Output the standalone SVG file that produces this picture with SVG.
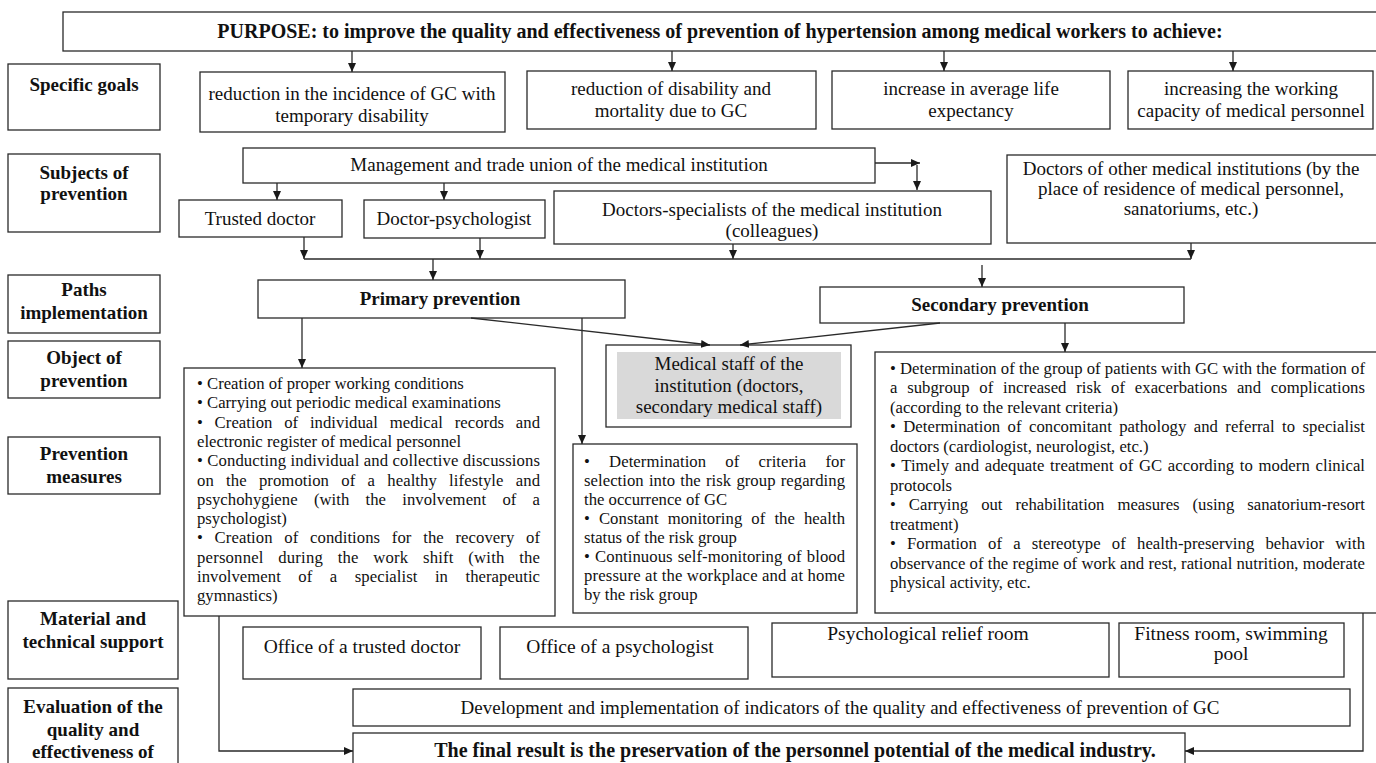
<svg xmlns="http://www.w3.org/2000/svg" width="1376" height="763" viewBox="0 0 1376 763">
<style>
.b{fill:#fff;stroke:#2a2a2a;stroke-width:1.3}
.g{fill:#d9d9d9;stroke:none}
text{font-family:"Liberation Serif","Times New Roman",serif;fill:#111}
.h{font-size:20px;font-weight:bold;text-anchor:middle}
.l{font-size:19px;font-weight:bold;text-anchor:middle}
.t{font-size:19px;text-anchor:middle}
.m{font-size:16.7px}
.s{font-size:19.5px;text-anchor:middle}
.c{fill:none;stroke:#2a2a2a;stroke-width:1.3}
</style>
<defs>
<marker id="a" markerUnits="userSpaceOnUse" markerWidth="10" markerHeight="10" refX="9" refY="5" orient="auto"><path d="M0,1 L9,5 L0,9 Z" fill="#1a1a1a"/></marker>
</defs>

<g id="purpose"><rect class="b" x="63" y="12" width="1320" height="39"/><text class="h" x="720" y="38">PURPOSE: to improve the quality and effectiveness of prevention of hypertension among medical workers to achieve:</text></g>

<g id="lbl-goals"><rect class="b" x="8" y="64" width="152" height="66"/><text class="l" x="84" y="91">Specific goals</text></g>
<g id="goal1"><rect class="b" x="200" y="72" width="305" height="60"/><text class="t" x="352" y="100">reduction in the incidence of GC with</text><text class="t" x="352" y="122">temporary disability</text></g>
<g id="goal2"><rect class="b" x="527" y="71" width="289" height="58"/><text class="t" x="671" y="95">reduction of disability and</text><text class="t" x="671" y="117">mortality due to GC</text></g>
<g id="goal3"><rect class="b" x="832" y="71" width="278" height="58"/><text class="t" x="971" y="95">increase in average life</text><text class="t" x="971" y="117">expectancy</text></g>
<g id="goal4"><rect class="b" x="1128" y="71" width="245" height="58"/><text class="t" x="1251" y="95">increasing the working</text><text class="t" x="1251" y="117">capacity of medical personnel</text></g>

<g id="lbl-subjects"><rect class="b" x="8" y="154" width="152" height="78"/><text class="l" x="84" y="179">Subjects of</text><text class="l" x="84" y="200">prevention</text></g>
<g id="mgmt"><rect class="b" x="243" y="148" width="632" height="35"/><text class="t" x="559" y="171">Management and trade union of the medical institution</text></g>
<g id="trusted"><rect class="b" x="179" y="200" width="163" height="37"/><text class="t" x="260" y="225">Trusted doctor</text></g>
<g id="psych"><rect class="b" x="364" y="200" width="181" height="38"/><text class="t" x="454" y="225">Doctor-psychologist</text></g>
<g id="specialists"><rect class="b" x="554" y="191" width="437" height="53"/><text class="t" x="772" y="216">Doctors-specialists of the medical institution</text><text class="t" x="772" y="237">(colleagues)</text></g>
<g id="other"><rect class="b" x="1007" y="155" width="380" height="88"/><text class="t" x="1191" y="175">Doctors of other medical institutions (by the</text><text class="t" x="1191" y="195">place of residence of medical personnel,</text><text class="t" x="1191" y="215">sanatoriums, etc.)</text></g>

<g id="lbl-paths"><rect class="b" x="8" y="275" width="152" height="58"/><text class="l" x="84" y="296">Paths</text><text class="l" x="84" y="319">implementation</text></g>
<g id="primary"><rect class="b" x="258" y="280" width="367" height="38"/><text class="l" x="440" y="305">Primary prevention</text></g>
<g id="secondary"><rect class="b" x="820" y="287" width="364" height="36"/><text class="l" x="1000" y="311">Secondary prevention</text></g>

<g id="lbl-object"><rect class="b" x="8" y="341" width="152" height="57"/><text class="l" x="84" y="364">Object of</text><text class="l" x="84" y="387">prevention</text></g>
<g id="staff"><rect class="b" x="606" y="345" width="245" height="82"/><rect class="g" x="617" y="352" width="224" height="67"/><text class="t" x="729" y="370" font-size="18.5">Medical staff of the</text><text class="t" x="729" y="392" font-size="18.5">institution (doctors,</text><text class="t" x="729" y="413" font-size="18.5">secondary medical staff)</text></g>

<g id="lbl-measures"><rect class="b" x="8" y="437" width="152" height="57"/><text class="l" x="84" y="460">Prevention</text><text class="l" x="84" y="483">measures</text></g>

<g id="primary-measures"><rect class="b" x="184" y="368" width="371" height="248"/>
<text class="m" x="197" y="389">• Creation of proper working conditions</text>
<text class="m" x="197" y="408">• Carrying out periodic medical examinations</text>
<text class="m" x="197" y="428" word-spacing="7.5" textLength="343" lengthAdjust="spacing">• Creation of individual medical records and</text>
<text class="m" x="197" y="447">electronic register of medical personnel</text>
<text class="m" x="197" y="466" textLength="343" lengthAdjust="spacing">• Conducting individual and collective discussions</text>
<text class="m" x="197" y="486" word-spacing="8" textLength="343" lengthAdjust="spacing">on the promotion of a healthy lifestyle and</text>
<text class="m" x="197" y="505" word-spacing="12" textLength="343" lengthAdjust="spacing">psychohygiene (with the involvement of a</text>
<text class="m" x="197" y="524">psychologist)</text>
<text class="m" x="197" y="543" word-spacing="7.5" textLength="343" lengthAdjust="spacing">• Creation of conditions for the recovery of</text>
<text class="m" x="197" y="563" word-spacing="10.3" textLength="343" lengthAdjust="spacing">personnel during the work shift (with the</text>
<text class="m" x="197" y="582" word-spacing="13.3" textLength="343" lengthAdjust="spacing">involvement of a specialist in therapeutic</text>
<text class="m" x="197" y="601">gymnastics)</text>
</g>

<g id="risk-measures"><rect class="b" x="573" y="444" width="284" height="169"/>
<text class="m" x="584" y="467" word-spacing="15" textLength="261" lengthAdjust="spacing">• Determination of criteria for</text>
<text class="m" x="584" y="486" word-spacing="1" textLength="261" lengthAdjust="spacing">selection into the risk group regarding</text>
<text class="m" x="584" y="505">the occurrence of GC</text>
<text class="m" x="584" y="524" word-spacing="4.8" textLength="261" lengthAdjust="spacing">• Constant monitoring of the health</text>
<text class="m" x="584" y="543">status of the risk group</text>
<text class="m" x="584" y="562" word-spacing="1" textLength="261" lengthAdjust="spacing">• Continuous self-monitoring of blood</text>
<text class="m" x="584" y="581" textLength="261" lengthAdjust="spacing">pressure at the workplace and at home</text>
<text class="m" x="584" y="600">by the risk group</text>
</g>

<g id="secondary-measures"><rect class="b" x="875" y="352" width="510" height="261"/>
<text class="m" x="890" y="374" textLength="475" lengthAdjust="spacing">• Determination of the group of patients with GC with the formation of</text>
<text class="m" x="890" y="393" word-spacing="5.5" textLength="475" lengthAdjust="spacing">a subgroup of increased risk of exacerbations and complications</text>
<text class="m" x="890" y="413">(according to the relevant criteria)</text>
<text class="m" x="890" y="432" word-spacing="3.2" textLength="475" lengthAdjust="spacing">• Determination of concomitant pathology and referral to specialist</text>
<text class="m" x="890" y="452">doctors (cardiologist, neurologist, etc.)</text>
<text class="m" x="890" y="471" word-spacing="1.4" textLength="475" lengthAdjust="spacing">• Timely and adequate treatment of GC according to modern clinical</text>
<text class="m" x="890" y="491">protocols</text>
<text class="m" x="890" y="510" word-spacing="8.8" textLength="475" lengthAdjust="spacing">• Carrying out rehabilitation measures (using sanatorium-resort</text>
<text class="m" x="890" y="530">treatment)</text>
<text class="m" x="890" y="549" word-spacing="7" textLength="475" lengthAdjust="spacing">• Formation of a stereotype of health-preserving behavior with</text>
<text class="m" x="890" y="569" textLength="475" lengthAdjust="spacing">observance of the regime of work and rest, rational nutrition, moderate</text>
<text class="m" x="890" y="588">physical activity, etc.</text>
</g>

<g id="lbl-material"><rect class="b" x="8" y="601" width="170" height="78"/><text class="l" x="93" y="625">Material and</text><text class="l" x="93" y="648">technical support</text></g>
<g id="office-trusted"><rect class="b" x="243" y="627" width="238" height="52"/><text class="s" x="362" y="653">Office of a trusted doctor</text></g>
<g id="office-psych"><rect class="b" x="500" y="627" width="248" height="52"/><text class="s" x="620" y="653">Office of a psychologist</text></g>
<g id="relief"><rect class="b" x="772" y="623" width="337" height="54"/><text class="s" x="928" y="640" font-size="20">Psychological relief room</text></g>
<g id="fitness"><rect class="b" x="1119" y="623" width="225" height="54"/><text class="s" x="1231" y="640">Fitness room, swimming</text><text class="s" x="1231" y="660">pool</text></g>

<g id="lbl-eval"><rect class="b" x="8" y="688" width="170" height="85"/><text class="l" x="93" y="713">Evaluation of the</text><text class="l" x="93" y="736">quality and</text><text class="l" x="93" y="758">effectiveness of</text></g>
<g id="indicators"><rect class="b" x="353" y="689" width="997" height="37"/><text class="t" x="840" y="714">Development and implementation of indicators of the quality and effectiveness of prevention of GC</text></g>
<g id="result"><rect class="b" x="353" y="733" width="832" height="40"/><text class="h" x="795" y="757">The final result is the preservation of the personnel potential of the medical industry.</text></g>

<g id="connectors">
<line class="c" x1="352" y1="51" x2="352" y2="72" marker-end="url(#a)"/>
<line class="c" x1="672" y1="51" x2="672" y2="71" marker-end="url(#a)"/>
<line class="c" x1="944" y1="51" x2="944" y2="71" marker-end="url(#a)"/>
<line class="c" x1="1233" y1="51" x2="1233" y2="71" marker-end="url(#a)"/>
<line class="c" x1="277" y1="183" x2="277" y2="200" marker-end="url(#a)"/>
<line class="c" x1="444" y1="183" x2="444" y2="200" marker-end="url(#a)"/>
<line class="c" x1="875" y1="163" x2="920" y2="163" marker-end="url(#a)"/>
<line class="c" x1="917" y1="165" x2="917" y2="190" marker-end="url(#a)"/>
<line class="c" x1="304" y1="237" x2="304" y2="259" marker-end="url(#a)"/>
<line class="c" x1="480" y1="238" x2="480" y2="259" marker-end="url(#a)"/>
<line class="c" x1="733" y1="244" x2="733" y2="259" marker-end="url(#a)"/>
<line class="c" x1="1191" y1="243" x2="1191" y2="259" marker-end="url(#a)"/>
<line class="c" x1="304" y1="259" x2="1191" y2="259"/>
<line class="c" x1="433" y1="259" x2="433" y2="280" marker-end="url(#a)"/>
<line class="c" x1="982" y1="265" x2="982" y2="287" marker-end="url(#a)"/>
<line class="c" x1="302" y1="318" x2="302" y2="368" marker-end="url(#a)"/>
<line class="c" x1="582" y1="318" x2="582" y2="444" marker-end="url(#a)"/>
<line class="c" x1="471" y1="318" x2="710" y2="345" marker-end="url(#a)"/>
<line class="c" x1="940" y1="323" x2="740" y2="345" marker-end="url(#a)"/>
<line class="c" x1="1065" y1="323" x2="1065" y2="352" marker-end="url(#a)"/>
<polyline class="c" points="219,616 219,751 353,751" marker-end="url(#a)"/>
<polyline class="c" points="1363,613 1363,751 1185,751" marker-end="url(#a)"/>
</g>
</svg>
